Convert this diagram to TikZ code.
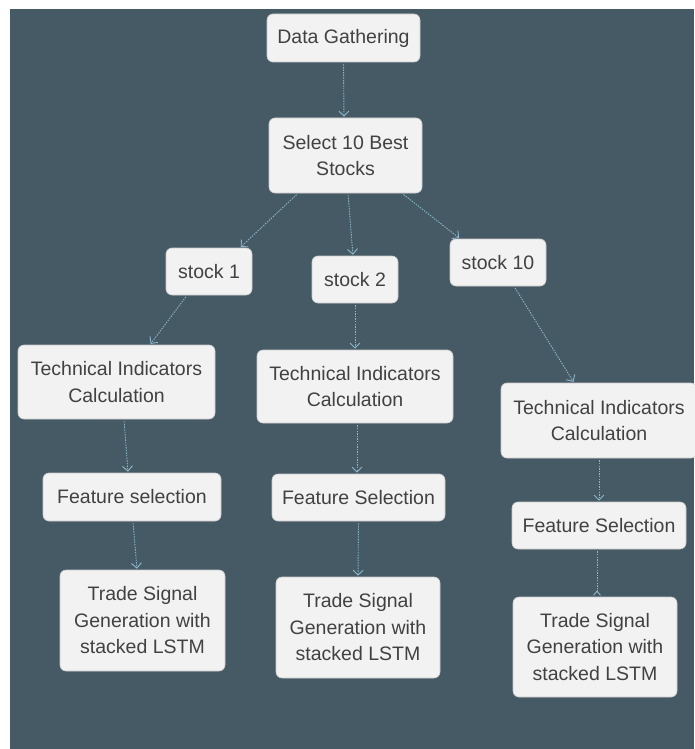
\documentclass[tikz,border=0pt]{standalone}
\usepackage{fontspec}
\setmainfont{Liberation Sans}
\usetikzlibrary{arrows.meta}

\definecolor{slate}{HTML}{465A65}
\definecolor{boxfill}{HTML}{F2F2F2}
\definecolor{boxline}{HTML}{CACACA}
\definecolor{txt}{HTML}{414141}
\definecolor{lnkc}{HTML}{8DB8CB}

\tikzset{
  blk/.style={draw=boxline, line width=0.6pt, fill=boxfill, rounded corners=6pt,
    align=center, inner sep=0pt, text=txt, font=\fontsize{19.5}{26.5}\selectfont},
  lnk/.style={draw=lnkc, line width=0.9pt, dash pattern=on 1.4pt off 1.2pt,
    -{Straight Barb[length=5pt,width=10pt,line width=0.9pt]},
    shorten <=2pt, shorten >=1pt},
}

\begin{document}
\begin{tikzpicture}[x=1pt,y=-1pt]
  \useasboundingbox (0,0) rectangle (694,749);
  \fill[white] (0,0) rectangle (694,749);
  \fill[slate] (10,9) rectangle (694,749);

  % top of the tree
  \node[blk, minimum width=153pt, minimum height=48pt] (gather) at (343.5,38) {Data Gathering};
  \node[blk, minimum width=153pt, minimum height=75pt] (sel) at (345.5,155.5) {Select 10 Best\\Stocks};

  % stocks
  \node[blk, minimum width=86pt, minimum height=47pt] (s1) at (209,271.5) {stock 1};
  \node[blk, minimum width=86pt, minimum height=47pt] (s2) at (355,279.5) {stock 2};
  \node[blk, minimum width=96pt, minimum height=47pt] (s10) at (498,262.5) {stock 10};

  % indicators
  \node[blk, minimum width=197pt, minimum height=74pt] (tic1) at (116.5,382) {Technical Indicators\\Calculation};
  \node[blk, minimum width=196pt, minimum height=73pt] (tic2) at (355,386.5) {Technical Indicators\\Calculation};
  \node[blk, minimum width=196pt, minimum height=75pt] (tic3) at (599,420.5) {Technical Indicators\\Calculation};

  % features
  \node[blk, minimum width=178pt, minimum height=48pt] (fs1) at (132,497) {Feature selection};
  \node[blk, minimum width=173pt, minimum height=47pt] (fs2) at (358.5,497.5) {Feature Selection};
  \node[blk, minimum width=174pt, minimum height=47pt] (fs3) at (599,525.5) {Feature Selection};

  % signals
  \node[blk, minimum width=165pt, minimum height=101pt] (ts1) at (142.5,620.5) {Trade Signal\\Generation with\\stacked LSTM};
  \node[blk, minimum width=164pt, minimum height=101pt] (ts2) at (358,627.5) {Trade Signal\\Generation with\\stacked LSTM};
  \node[blk, minimum width=164pt, minimum height=100pt] (ts3) at (595,647) {Trade Signal\\Generation with\\stacked LSTM};

  % links
  \draw[lnk] (gather.south) -- ([xshift=-1.5pt]sel.north);
  \draw[lnk] ([xshift=-47.5pt]sel.south) -- ([xshift=31pt]s1.north);
  \draw[lnk] ([xshift=2.5pt]sel.south) -- ([xshift=-2pt]s2.north);
  \draw[lnk] ([xshift=56.5pt]sel.south) -- ([xshift=-38pt]s10.north);
  \draw[lnk] ([xshift=-22pt]s1.south) -- ([xshift=33.5pt]tic1.north);
  \draw[lnk] (s2.south) -- (tic2.north);
  \draw[lnk] ([xshift=16pt]s10.south) -- ([xshift=-25pt]tic3.north);
  \draw[lnk] ([xshift=7.5pt]tic1.south) -- ([xshift=-4pt]fs1.north);
  \draw[lnk] ([xshift=2pt]tic2.south) -- ([xshift=-1.5pt]fs2.north);
  \draw[lnk] (tic3.south) -- (fs3.north);
  \draw[lnk] ([xshift=1pt]fs1.south) -- ([xshift=-5.5pt]ts1.north);
  \draw[lnk] (fs2.south) -- (ts2.north);
  \draw[lnk, -{Straight Barb[reversed,length=4pt,width=7pt,line width=0.9pt]}] ([xshift=-2pt]fs3.south) -- ([xshift=2pt]ts3.north);
\end{tikzpicture}
\end{document}
